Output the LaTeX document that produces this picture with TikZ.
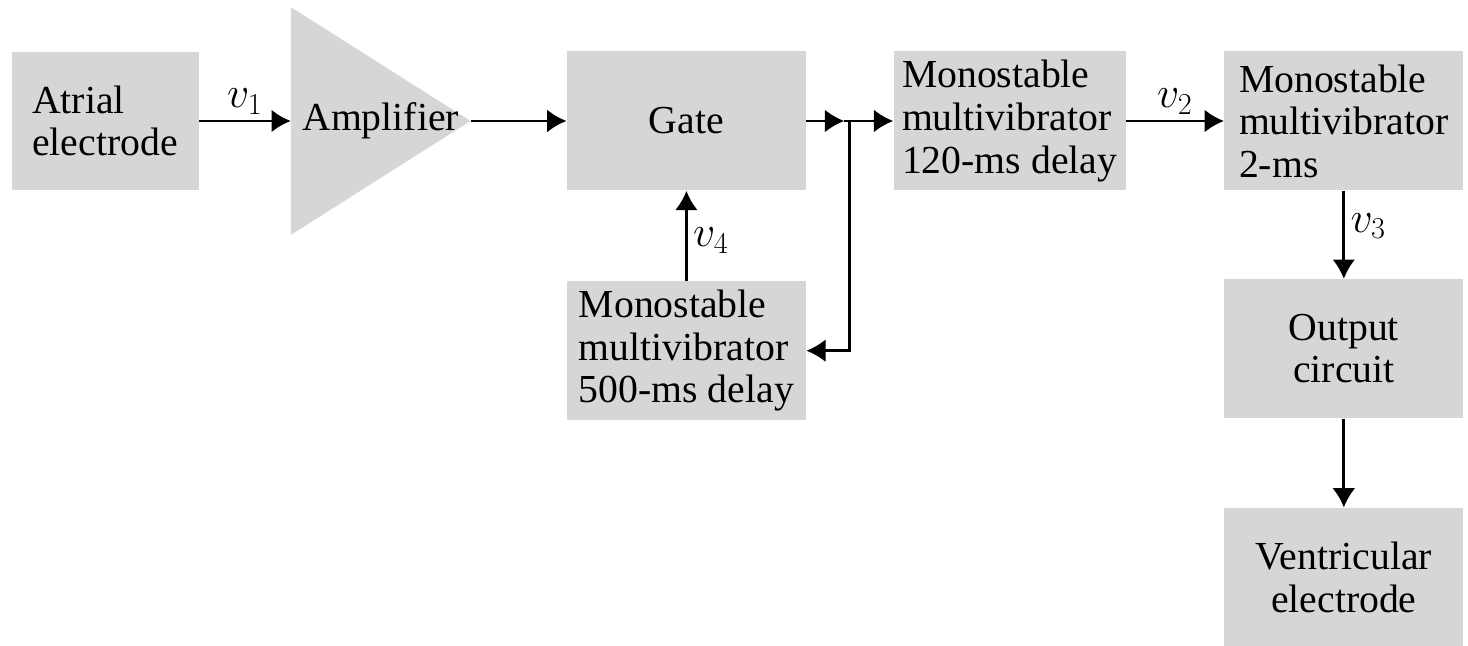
\documentclass[tikz,border=0pt]{standalone}
\usepackage{fontspec}
\setmainfont{Liberation Serif}
\usetikzlibrary{positioning,arrows.meta,backgrounds}
\definecolor{boxgray}{RGB}{214,214,214}

\begin{document}
\begin{tikzpicture}[
  node distance=1.8cm,
  box/.style={fill=boxgray, inner sep=0pt, minimum width=4.78cm, minimum height=2.78cm,
    align=center, font=\fontsize{22.6}{24.2}\selectfont},
  arr/.style={-{Latex[length=11pt,width=13pt]}, line width=1.6pt},
  sig/.style={font=\fontsize{24}{28}\selectfont, inner sep=3pt}
]
\useasboundingbox (0,0) rectangle (29.36,12.9);
% pacing chain
\node[box, minimum width=3.74cm, minimum height=2.76cm, align=left] (atrial) at (2.10,10.48) {Atrial\\electrode};
\node[box, fill=none, minimum width=3.58cm, minimum height=4.54cm, right=1.84cm of atrial] (amp) {Amplifier};
\node[box, right=1.92cm of amp] (gate) {Gate};
\node[box, minimum width=4.64cm, align=left, right=1.74cm of gate] (delay120) {Monostable\\multivibrator\\120-ms delay};
\node[box, align=left, right=1.96cm of delay120] (pulse2) {Monostable\\multivibrator\\2-ms};
\node[box, below=1.76cm of pulse2] (output) {Output\\circuit};
\node[box, below=1.78cm of output] (ventr) {Ventricular\\electrode};
% refractory loop
\node[box, align=left, below=1.8cm of gate] (delay500) {Monostable\\multivibrator\\500-ms delay};
\coordinate (split) at ([xshift=0.86cm]gate.east);

% amplifier triangle behind its label
\begin{scope}[on background layer]
  \fill[boxgray] (amp.north west) -- (amp.east) -- (amp.south west) -- cycle;
\end{scope}

\draw[arr] (atrial) -- node[above, sig]{$v_1$} (amp);
\draw[arr] (amp) -- (gate);
\draw[arr] (gate) -- ([xshift=-0.1cm]split);
\draw[arr] ([xshift=-0.1cm]split) -- (delay120);
\draw[arr] (split) |- (delay500);
\draw[arr] (delay500) -- node[right, pos=0.45, sig]{$v_4$} (gate);
\draw[arr] (delay120) -- node[above, sig]{$v_2$} (pulse2);
\draw[arr] (pulse2) -- node[right, pos=0.4, sig]{$v_3$} (output);
\draw[arr] (output) -- (ventr);
\end{tikzpicture}
\end{document}
